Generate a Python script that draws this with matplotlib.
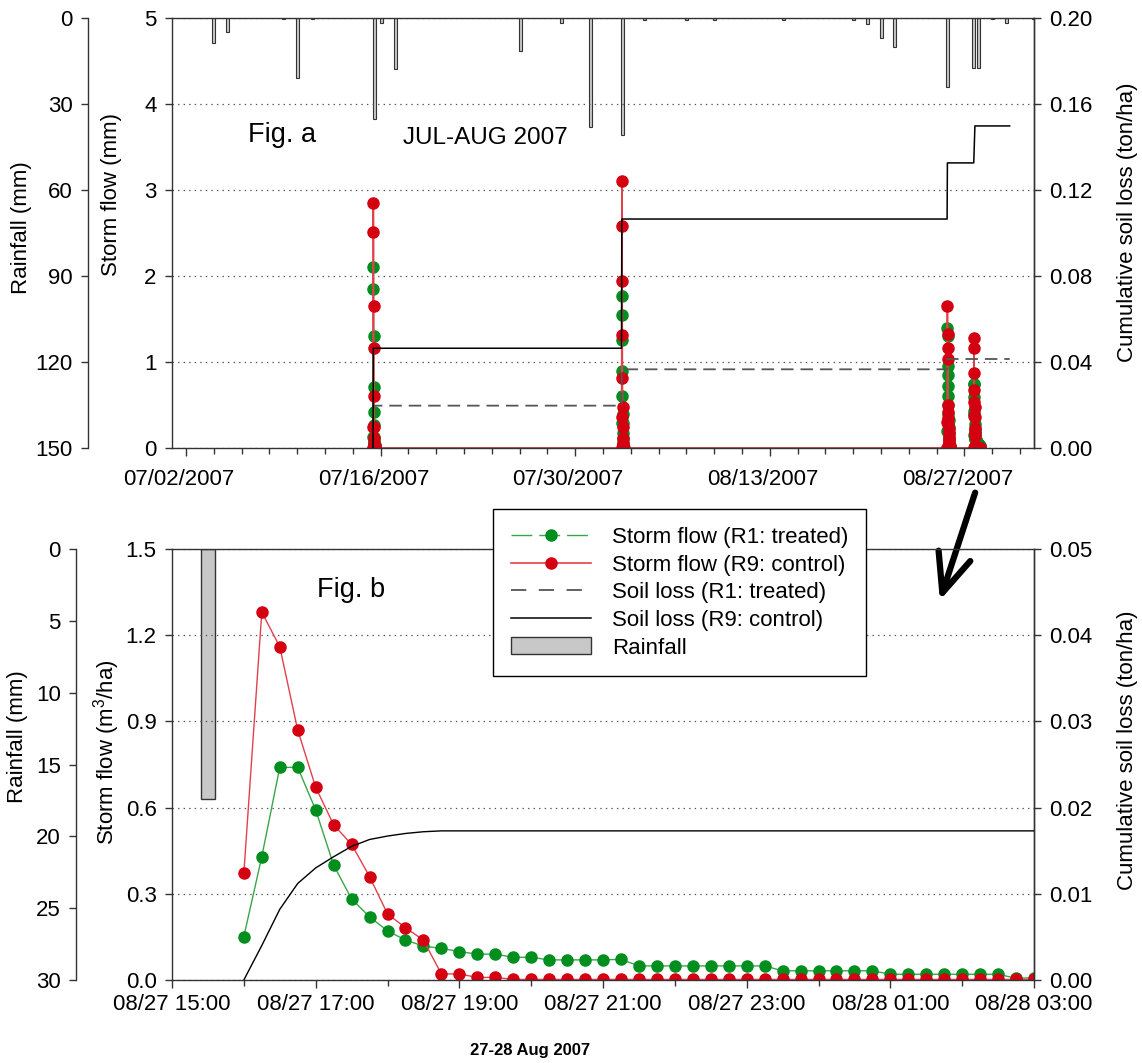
import matplotlib
matplotlib.use("Agg")
import matplotlib.pyplot as plt
import matplotlib.dates as mdates
from matplotlib.lines import Line2D
from matplotlib.patches import Patch
from matplotlib.ticker import FixedLocator, FormatStrFormatter, MultipleLocator
from matplotlib.transforms import ScaledTranslation
import pandas as pd

plt.rcParams['font.family'] = ['Liberation Sans', 'DejaVu Sans']
plt.rcParams['mathtext.fontset'] = 'custom'
plt.rcParams['mathtext.rm'] = 'Liberation Sans'
plt.rcParams['lines.scale_dashes'] = False

# ---------------- data: Fig. a (JUL-AUG 2007) ----------------
rain_a_dates = ['2007-07-04 00:00', '2007-07-05 00:00', '2007-07-09 00:00', '2007-07-10 01:00',
                '2007-07-11 02:00', '2007-07-15 13:00', '2007-07-16 01:00', '2007-07-17 01:00',
                '2007-07-26 01:00', '2007-07-29 01:00', '2007-07-31 02:00', '2007-08-02 09:00',
                '2007-08-04 00:00', '2007-08-07 00:00', '2007-08-09 00:00', '2007-08-14 00:00',
                '2007-08-19 00:00', '2007-08-20 00:00', '2007-08-21 00:00', '2007-08-22 00:00',
                '2007-08-25 18:00', '2007-08-27 15:00', '2007-08-28 01:00', '2007-08-29 00:00',
                '2007-08-30 00:00', '2007-08-31 23:00']
rain_a_mm = [8.8, 4.8, 0.5, 21.0, 0.5, 35.3, 1.9, 17.9, 11.4, 1.9, 37.9, 40.8,
             0.7, 0.7, 0.7, 0.7, 0.7, 2.1, 6.9, 10.0, 24.0, 17.5, 17.5, 0.5, 1.9, 0.5]

event_starts = ['2007-07-15 11:00', '2007-08-02 08:00', '2007-08-25 18:00']
flow_r1_events = [
    [0.0, 0.13, 2.10, 1.85, 1.30, 0.71, 0.42, 0.27, 0.13, 0.08, 0.05, 0.03, 0.02, 0.0],
    [0.0, 0.29, 1.77, 1.55, 1.26, 0.90, 0.60, 0.40, 0.29, 0.18, 0.10, 0.05, 0.03, 0.02, 0.0],
    [0.0, 0.20, 1.40, 1.30, 0.95, 0.85, 0.72, 0.60, 0.50, 0.40, 0.32, 0.25, 0.18, 0.12,
     0.08, 0.05, 0.03, 0.02, 0.01, 0.0],
]
flow_r9_events = [
    [0.0, 0.25, 2.85, 2.51, 1.65, 1.16, 0.60, 0.25, 0.12, 0.06, 0.03, 0.02, 0.01, 0.0],
    [0.0, 0.36, 3.10, 2.58, 1.94, 1.31, 0.81, 0.48, 0.25, 0.12, 0.06, 0.03, 0.02, 0.01, 0.0],
    [0.0, 0.30, 1.65, 1.32, 1.16, 1.03, 0.50, 0.42, 0.35, 0.28, 0.22, 0.17, 0.13, 0.10,
     0.07, 0.05, 0.03, 0.02, 0.01, 0.0],
]

soil_a_times = ['2007-07-15 11:00', '2007-07-15 11:30', '2007-08-02 08:00', '2007-08-02 08:30',
                '2007-08-25 18:00', '2007-08-25 18:30', '2007-08-27 16:00', '2007-08-27 18:00',
                '2007-08-30 06:00']
soil_a_r1 = [0.0, 0.0197, 0.0197, 0.0366, 0.0366, 0.0414, 0.0414, 0.0414, 0.0414]
soil_a_r9 = [0.0, 0.0464, 0.0464, 0.1065, 0.1065, 0.1326, 0.1326, 0.1498, 0.1498]

# ---------------- data: Fig. b (27-28 Aug 2007, 15-min steps) ----------------
flow_b_start = '2007-08-27 16:00'
flow_b_r1 = [0.151, 0.429, 0.740, 0.740, 0.592, 0.400, 0.282, 0.220, 0.171, 0.139, 0.118,
             0.110, 0.099, 0.090, 0.090, 0.079, 0.079, 0.070, 0.070, 0.070, 0.070, 0.072,
             0.049, 0.049, 0.049, 0.049, 0.049, 0.049, 0.049, 0.049,
             0.032, 0.032, 0.032, 0.032, 0.032, 0.032,
             0.020, 0.020, 0.020, 0.020, 0.020, 0.020, 0.020, 0.006, 0.008]
flow_b_r9 = [0.371, 1.280, 1.160, 0.870, 0.671, 0.540, 0.472, 0.360, 0.230, 0.182, 0.139,
             0.021, 0.021, 0.009, 0.009] + [0.002] * 30
soil_b_r9 = [0.0, 0.0040, 0.0082, 0.0112, 0.0130, 0.0143, 0.0155, 0.0163, 0.0167, 0.0170,
             0.0172] + [0.0173] * 34
rain_b_dates = ['2007-08-27 15:30']
rain_b_mm = [17.4]

# ---------------- styling ----------------
W, H = 1142, 1063
FS = 16
GREEN_M, GREEN_L = '#008f1f', '#3aa64a'
RED_M, RED_L = '#d40012', '#e2404c'
SPINE = '#333333'


def fx(x):
    return x / W


def fy(y):
    return 1 - y / H


fig = plt.figure(figsize=(W / 100, H / 100), dpi=100)


def make_panel(rect, rain_offset_pt):
    ax = fig.add_axes(rect)
    axr = ax.twinx()
    axs = ax.twinx()
    axr.set_zorder(0)
    ax.set_zorder(1)
    axs.set_zorder(2)
    ax.patch.set_visible(False)
    axs.patch.set_visible(False)
    # rain axis on the far left
    axr.yaxis.set_ticks_position('left')
    axr.yaxis.set_label_position('left')
    axr.spines['left'].set_position(('outward', rain_offset_pt))
    for s in ['right', 'top', 'bottom']:
        axr.spines[s].set_visible(False)
    for s in ['left', 'top', 'bottom']:
        axs.spines[s].set_visible(False)
    for a in (ax, axr, axs):
        for s in a.spines.values():
            s.set_color(SPINE)
            s.set_linewidth(1.0)
        a.tick_params(axis='y', direction='out', length=5, width=1, labelsize=FS, pad=6,
                      color=SPINE)
    ax.tick_params(axis='x', which='major', direction='out', length=6, width=1,
                   labelsize=FS, color=SPINE)
    ax.tick_params(axis='x', which='minor', direction='out', length=4, width=1, color=SPINE)
    ax.yaxis.grid(True, linestyle=(0, (1, 3)), color='#555555', linewidth=0.9)
    return ax, axr, axs


# ================= Fig. a =================
ax1, ax1r, ax1s = make_panel([fx(172), fy(448), fx(862), 430 / H], 60.5)

ax1r.bar(pd.to_datetime(rain_a_dates), rain_a_mm, width=0.22, color='#c8c8c8',
         edgecolor='#333333', linewidth=0.8)
ax1r.set_ylim(150, 0)
ax1r.yaxis.set_major_locator(MultipleLocator(30))

t_a, r1_a, r9_a = [], [], []
for start, g, r in zip(event_starts, flow_r1_events, flow_r9_events):
    times = pd.date_range(start, periods=len(g), freq='15min')
    t_a.extend(times)
    r1_a.extend(g)
    r9_a.extend(r)
t4 = pd.date_range(pd.Timestamp(flow_b_start) - pd.Timedelta('15min'),
                   periods=len(flow_b_r1) + 1, freq='15min')
t_a.extend(t4)
r1_a.extend([0.0] + flow_b_r1)
r9_a.extend([0.0] + flow_b_r9)

ax1.plot(t_a, r1_a, color=GREEN_L, lw=1.0, marker='o', ms=8, mfc=GREEN_M, mec=GREEN_M)
ax1.plot(t_a, r9_a, color=RED_L, lw=1.2, marker='o', ms=8, mfc=RED_M, mec=RED_M)
ax1.set_ylim(0, 5)
ax1.yaxis.set_major_locator(MultipleLocator(1))

st = pd.to_datetime(soil_a_times)
ax1s.plot(st, soil_a_r1, color='#555555', lw=1.3, ls=(0, (9, 5)))
ax1s.plot(st, soil_a_r9, color='black', lw=1.1)
ax1s.set_ylim(0, 0.2)
ax1s.yaxis.set_major_locator(MultipleLocator(0.04))
ax1s.yaxis.set_major_formatter(FormatStrFormatter('%.2f'))

ax1.set_xlim(pd.Timestamp('2007-07-01'), pd.Timestamp('2007-09-01'))
ax1.xaxis.set_major_locator(FixedLocator(mdates.date2num(
    pd.date_range('2007-07-02', periods=5, freq='14D'))))
ax1.xaxis.set_minor_locator(FixedLocator(mdates.date2num(
    pd.date_range('2007-07-02', '2007-09-01', freq='2D'))))
ax1.xaxis.set_major_formatter(mdates.DateFormatter('%m/%d/%Y'))
ax1.tick_params(axis='x', which='major', pad=9)
shift = ScaledTranslation(-7 / 100, 0, fig.dpi_scale_trans)
for tk in ax1.xaxis.get_major_ticks():
    tk.label1.set_transform(tk.label1.get_transform() + shift)

# ================= Fig. b =================
ax2, ax2r, ax2s = make_panel([fx(172), fy(980), fx(862), 431 / H], 69)

ax2r.bar(pd.to_datetime(rain_b_dates), rain_b_mm, width=12 / 1440, color='#c8c8c8',
         edgecolor='#333333', linewidth=1.0)
ax2r.set_ylim(30, 0)
ax2r.yaxis.set_major_locator(MultipleLocator(5))

tb = pd.date_range(flow_b_start, periods=len(flow_b_r1), freq='15min')
ax2.plot(tb, flow_b_r1, color=GREEN_L, lw=1.0, marker='o', ms=8, mfc=GREEN_M, mec=GREEN_M)
ax2.plot(tb, flow_b_r9, color=RED_L, lw=1.0, marker='o', ms=8, mfc=RED_M, mec=RED_M)
ax2.set_ylim(0, 1.5)
ax2.yaxis.set_major_locator(MultipleLocator(0.3))
ax2.yaxis.set_major_formatter(FormatStrFormatter('%.1f'))

ax2s.plot(tb, soil_b_r9, color='black', lw=1.0)
ax2s.set_ylim(0, 0.05)
ax2s.yaxis.set_major_locator(MultipleLocator(0.01))
ax2s.yaxis.set_major_formatter(FormatStrFormatter('%.2f'))

ax2.set_xlim(pd.Timestamp('2007-08-27 15:00'), pd.Timestamp('2007-08-28 03:00'))
ax2.xaxis.set_major_locator(mdates.HourLocator(byhour=range(1, 24, 2)))
ax2.xaxis.set_minor_locator(mdates.HourLocator())
ax2.xaxis.set_major_formatter(mdates.DateFormatter('%m/%d %H:%M'))
ax2.tick_params(axis='x', which='major', pad=4)

# ================= texts =================
lab = dict(fontsize=FS, rotation=90, ha='center', va='center')
fig.text(fx(22), fy(228), 'Rainfall (mm)', **lab)
fig.text(fx(112), fy(195), 'Storm flow (mm)', **lab)
fig.text(fx(1127), fy(222), 'Cumulative soil loss (ton/ha)', **lab)
fig.text(fx(18), fy(737), 'Rainfall (mm)', **lab)
fig.text(fx(107), fy(752), r'Storm flow (m$\mathregular{^3}$/ha)', **lab)
fig.text(fx(1127), fy(750), 'Cumulative soil loss (ton/ha)', **lab)

fig.text(fx(248), fy(135), 'Fig. a', fontsize=19.5, ha='left', va='center')
fig.text(fx(403), fy(138), 'JUL-AUG 2007', fontsize=17.5, ha='left', va='center')
fig.text(fx(317), fy(590), 'Fig. b', fontsize=19.5, ha='left', va='center')
fig.text(fx(530), fy(1050), '27-28 Aug 2007', fontsize=12, fontweight='bold',
         ha='center', va='center')

# arrow
fig.add_artist(matplotlib.patches.FancyArrowPatch(
    (976, H - 490), (939, H - 603), transform=None,
    arrowstyle='->,head_length=1.4,head_width=0.6', mutation_scale=20,
    lw=4.5, color='black'))

# legend
handles = [
    Line2D([], [], color=GREEN_L, lw=1.0, ls=(0, (15, 5)), marker='o', ms=8,
           mfc=GREEN_M, mec=GREEN_M),
    Line2D([], [], color=RED_L, lw=1.2, marker='o', ms=8, mfc=RED_M, mec=RED_M),
    Line2D([], [], color='#555555', lw=1.3, ls=(0, (11, 9))),
    Line2D([], [], color='black', lw=1.1),
    Patch(facecolor='#c8c8c8', edgecolor='#333333', linewidth=1.0),
]
labels = ['Storm flow (R1: treated)', 'Storm flow (R9: control)', 'Soil loss (R1: treated)',
          'Soil loss (R9: control)', 'Rainfall']
leg = fig.legend(handles, labels, loc='upper left', bbox_to_anchor=(fx(493), fy(509)),
                 bbox_transform=fig.transFigure, borderaxespad=0, fontsize=FS,
                 frameon=True, fancybox=False, framealpha=1, edgecolor='black',
                 handlelength=3.6, handletextpad=0.95, labelspacing=0.29, borderpad=0.8,
                 handleheight=0.8)
leg.get_frame().set_linewidth(1.0)
leg.set_zorder(10)

fig.savefig('out.png', dpi=100, facecolor='white')
